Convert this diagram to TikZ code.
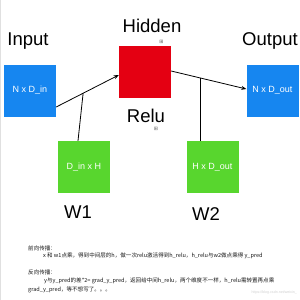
\documentclass[tikz,border=0pt]{standalone}
\usepackage{fontspec}
\setmainfont{Liberation Sans}
\newfontfamily\cjk{Noto Sans CJK SC}
\newfontfamily\dejavu{DejaVu Sans}
\usetikzlibrary{arrows.meta}
\definecolor{boxblue}{RGB}{22,134,240}
\definecolor{boxred}{RGB}{228,0,18}
\definecolor{boxgreen}{RGB}{88,214,46}
\tikzset{
  blk/.style={minimum width=52pt,minimum height=52pt,inner sep=0pt,draw=none,text=white,font=\fontsize{9}{10}\selectfont},
  ttl/.style={font=\fontsize{18.5}{20}\selectfont,inner sep=0pt,text=black},
  conn/.style={line width=0.8pt,-{Stealth[length=5pt,width=4pt]}},
  plain/.style={line width=0.8pt},
  icon/.style={font=\dejavu\fontsize{5}{5}\selectfont,text=black!60,inner sep=0pt},
  body/.style={font=\cjk\fontsize{5.55}{6.5}\selectfont,anchor=west,inner sep=0pt,text=black!90}
}
\begin{document}
\begin{tikzpicture}[x=1pt,y=-1pt]
\useasboundingbox[fill=white] (0,0) rectangle (300,300);
\draw[black!12,line width=0.8pt] (0.6,0) -- (0.6,300);
% titles
\node[ttl] (tin) at (28,41) {Input};
\node[ttl] (thid) at (152,26) {Hidden};
\node[ttl] (tout) at (270,41) {Output};
\node[ttl] (trelu) at (146,115.5) {Relu};
\node[ttl] (tw1) at (78,212) {W1};
\node[ttl] (tw2) at (206,214) {W2};
% boxes
\node[blk,fill=boxblue] (in) at (30,90.5) {N x D\_in};
\node[blk,fill=boxred] (hid) at (145,72) {};
\node[blk,fill=boxblue] (out) at (272.5,90.5) {N x D\_out};
\node[blk,fill=boxgreen] (w1) at (84,167) {D\_in x H};
\node[blk,fill=boxgreen] (w2) at (212.5,167) {H x D\_out};
% icons
\node[icon] (ic1) at (161.5,41.5) {⊞};
\node[icon] (ic2) at (156,128.5) {⊞};
% connectors
\draw[conn] ([yshift=-16.5pt]in.east) -- coordinate[pos=0.43] (j1) ([yshift=-3pt]hid.west);
\draw[conn] ([yshift=1pt]hid.east) -- coordinate[pos=0.387] (j2) ([yshift=1.5pt]out.west);
\draw[plain] ([xshift=-6pt]w1.north) -- (j1);
\draw[plain] (j2 |- w2.north) -- (j2);
% body text
\node[body] (t1) at (28,248) {前向传播：};
\node[body] (t2) at (43,256) {x 和 w1点乘，得到中间层的h，做一次relu激活得到h\_relu，h\_relu与w2做点乘得 y\_pred};
\node[body] (t3) at (28,272) {反向传播：};
\node[body] (t4) at (44,280.5) {y与y\_pred的差*2= grad\_y\_pred，返回给中间h\_relu，两个维度不一样，h\_relu需转置再点乘};
\node[body] (t5) at (28,289.5) {grad\_y\_pred，等不想写了。。。};
\node[font=\fontsize{3.6}{4}\selectfont,text=black!18,anchor=east,inner sep=0pt] (wm) at (297,293) {https://blog.csdn.net/weixin\_};
\end{tikzpicture}
\end{document}
